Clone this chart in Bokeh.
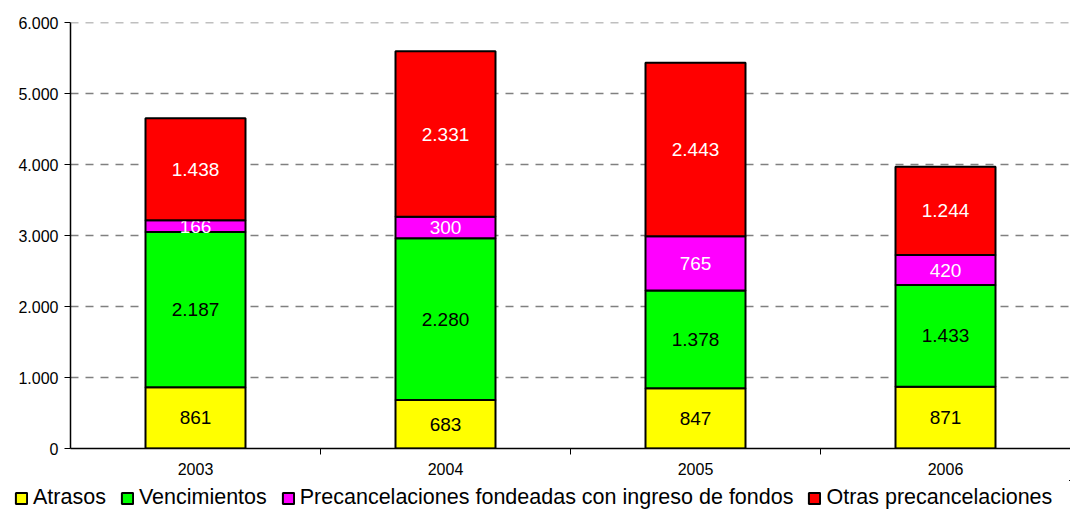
import numpy as np
from bokeh.plotting import figure
from bokeh.models import (ColumnDataSource, FixedTicker, Legend, LegendItem, Range1d, Span)
from bokeh.embed import file_html
from bokeh.resources import INLINE
from bokeh.core.properties import value

years = ["2003", "2004", "2005", "2006"]
series_names = ["Atrasos", "Vencimientos", "Precancelaciones fondeadas con ingreso de fondos", "Otras precancelaciones"]
atrasos = [861, 683, 847, 871]
vencimientos = [2187, 2280, 1378, 1433]
precanc_fondeadas = [166, 300, 765, 420]
otras_precanc = [1438, 2331, 2443, 1244]
colors = ["#FFFF00", "#00FF00", "#FF00FF", "#FF0000"]
label_colors = ["black", "black", "white", "white"]
y_ticks = [0, 1000, 2000, 3000, 4000, 5000, 6000]

FONT = "Liberation Sans"

series = [atrasos, vencimientos, precanc_fondeadas, otras_precanc]
xpos = np.arange(len(years)) + 0.5

p = figure(frame_width=1000, frame_height=426, output_backend="svg", toolbar_location=None,
           x_range=Range1d(0, 4), y_range=Range1d(0, 6000),
           min_border_left=70, min_border_right=0, min_border_top=22, min_border_bottom=32)
p.outline_line_color = None
p.background_fill_color = "white"

# legend strip (separate root, below the chart); its glyph renderers lie outside its ranges
lf = figure(width=1070, height=30, output_backend="svg", toolbar_location=None,
            x_range=Range1d(-101, -100), y_range=Range1d(-2, -1),
            x_axis_location=None, y_axis_location=None, min_border=0)
lf.outline_line_color = None
lf.xgrid.grid_line_color = None
lf.ygrid.grid_line_color = None

bottom = np.zeros(len(years))
items = []
for name, vals, col, lc in zip(series_names, series, colors, label_colors):
    vals = np.array(vals, dtype=float)
    top = bottom + vals
    src = ColumnDataSource(dict(x=xpos, bottom=bottom, top=top, mid=(bottom + top) / 2,
                                txt=[f"{int(v):,}".replace(",", ".") for v in vals]))
    p.vbar(x="x", bottom="bottom", top="top", width=0.4, source=src,
           fill_color=col, line_color="black", line_width=2)
    p.text(x="x", y="mid", text="txt", source=src, text_align="center", text_baseline="middle",
           text_color=lc, text_font=value(FONT), text_font_size="19px")
    r = lf.vbar(x="x", bottom="bottom", top="top", width=0.4, source=src,
                fill_color=col, line_color="black", line_width=2)
    items.append(LegendItem(label=name, renderers=[r]))
    bottom = top

# axes
p.xaxis.ticker = FixedTicker(ticks=list(xpos), minor_ticks=[1, 2, 3])
p.xaxis.major_label_overrides = {float(x): y for x, y in zip(xpos, years)}
p.xaxis.major_tick_line_color = None
p.xaxis.minor_tick_out = 6
p.xaxis.minor_tick_in = 0
p.xaxis.minor_tick_line_color = "black"
p.xaxis.axis_line_color = "black"
p.xaxis.axis_line_width = 1.5
p.xaxis.major_label_text_font = FONT
p.xaxis.major_label_text_font_size = "16px"
p.xaxis.major_label_text_color = "black"
p.xaxis.major_label_standoff = 8

p.yaxis.ticker = FixedTicker(ticks=y_ticks)
p.yaxis.major_label_overrides = {t: f"{t:,}".replace(",", ".") for t in y_ticks}
p.yaxis.major_tick_out = 6
p.yaxis.major_tick_in = 0
p.yaxis.minor_tick_line_color = None
p.yaxis.axis_line_color = "black"
p.yaxis.axis_line_width = 1.5
p.yaxis.major_tick_line_color = "black"
p.yaxis.major_label_text_font = FONT
p.yaxis.major_label_text_font_size = "16px"
p.yaxis.major_label_text_color = "black"
p.yaxis.major_label_standoff = 6

p.xgrid.grid_line_color = None
p.ygrid.grid_line_color = "#808080"
p.ygrid.grid_line_dash = "8 7"
p.ygrid.grid_line_width = 1.5
p.add_layout(Span(location=6000, dimension="width", line_color="#808080",
                  line_dash="8 7", line_width=1.5))

legend = Legend(items=items, orientation="horizontal", glyph_width=14, glyph_height=14,
                label_text_font=FONT, label_text_font_size="21.5px", label_text_color="black",
                label_standoff=5, spacing=14, padding=0, margin=0, border_line_color=None,
                background_fill_alpha=0, label_height=20, location=(14, 0))
lf.add_layout(legend, "center")

open("out.html", "w").write(file_html([p, lf], INLINE))
